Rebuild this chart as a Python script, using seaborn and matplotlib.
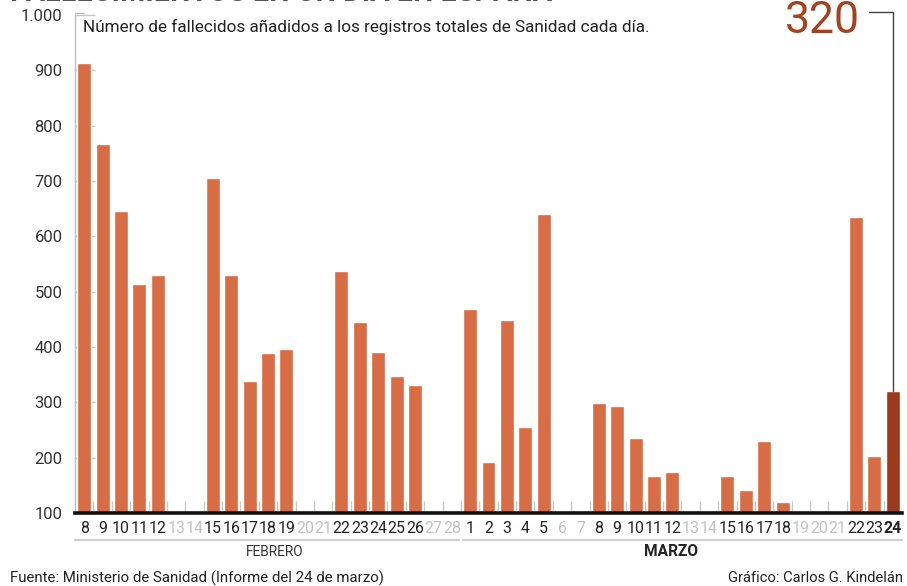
import matplotlib
matplotlib.use("Agg")
import matplotlib.pyplot as plt
import seaborn as sns
import pandas as pd
from matplotlib.lines import Line2D

# ---- data ----
feb_days = [8, 9, 10, 11, 12, 13, 14, 15, 16, 17, 18, 19, 20, 21, 22, 23, 24, 25, 26, 27, 28]
feb_values = [913, 767, 645, 514, 531, 0, 0, 705, 531, 338, 389, 397, 0, 0, 537, 445, 391, 347, 331, 0, 0]
feb_weekend = [13, 14, 20, 21, 27, 28]

mar_days = [1, 2, 3, 4, 5, 6, 7, 8, 9, 10, 11, 12, 13, 14, 15, 16, 17, 18, 19, 20, 21, 22, 23, 24]
mar_values = [469, 193, 449, 255, 640, 0, 0, 298, 293, 235, 167, 174, 0, 0, 167, 142, 230, 120, 0, 0, 0, 635, 203, 320]
mar_weekend = [6, 7, 13, 14, 19, 20, 21]

y_ticks = [100, 200, 300, 400, 500, 600, 700, 800, 900, 1000]
y_tick_labels = ["100", "200", "300", "400", "500", "600", "700", "800", "900", "1.000"]

title = "FALLECIMIENTOS EN UN DÍA EN ESPAÑA"
subtitle = "Número de fallecidos añadidos a los registros totales de Sanidad cada día."
source = "Fuente: Ministerio de Sanidad (Informe del 24 de marzo)"
credit = "Gráfico: Carlos G. Kindelán"
highlight_label = "320"

# ---- styling ----
BAR = "#D76C45"
BAR_LAST = "#9C3A1E"
TXT = "#222222"

sns.set_theme(style="white")
plt.rcParams["font.family"] = ["Roboto", "DejaVu Sans"]

keys = [f"f{d}" for d in feb_days] + [f"m{d}" for d in mar_days]
labels = [str(d) for d in feb_days] + [str(d) for d in mar_days]
values = feb_values + mar_values
weekend = [d in feb_weekend for d in feb_days] + [d in mar_weekend for d in mar_days]
n = len(keys)
colors = [BAR] * (n - 1) + [BAR_LAST]

df = pd.DataFrame({"key": keys, "value": values})

fig = plt.figure(figsize=(9.07, 5.86), dpi=100)
ax = fig.add_axes([75 / 907, 1 - 513 / 586, 827 / 907, (513 - 15) / 586])

sns.barplot(data=df, x="key", y="value", hue="key", order=keys, hue_order=keys,
            palette=colors, legend=False, width=0.76, saturation=1, ax=ax, zorder=2)

ax.set_xlim(-0.5, n - 0.5)
ax.set_ylim(100, 1000)
ax.set_xlabel("")
ax.set_ylabel("")
ax.set_axisbelow(True)

# y axis
ax.set_yticks(y_ticks)
ax.set_yticklabels(y_tick_labels)
ax.tick_params(axis="y", direction="in", length=14.4, width=1, color="#C8C8C8",
               pad=9, labelsize=12, labelcolor="#333333", left=True)

# x axis
ax.set_xticks(range(n))
ax.set_xticklabels(labels)
ax.tick_params(axis="x", length=0, pad=6, labelsize=11.4)
for lab, wk, i in zip(ax.get_xticklabels(), weekend, range(n)):
    lab.set_color("#C2C2C2" if wk else TXT)
    if i == n - 1:
        lab.set_fontweight("bold")

# spines
for s in ["top", "right"]:
    ax.spines[s].set_visible(False)
ax.spines["left"].set_color("#BDBDBD")
ax.spines["left"].set_linewidth(1)
ax.spines["bottom"].set_color("#111111")
ax.spines["bottom"].set_linewidth(2.6)
ax.spines["bottom"].set_zorder(5)

# small separators at baseline between bars
ax.vlines([i + 0.5 for i in range(n - 1)], 100, 122, color="#C8C8C8", linewidth=1, zorder=1)

# top-left corner of subtitle box
ax.add_line(Line2D([0, 0.011], [1.004, 1.004], transform=ax.transAxes, color="#BDBDBD",
                   linewidth=1, clip_on=False))

# highlight annotation
last = n - 1
ax.text(last - 1.78, 967, highlight_label, ha="right", va="baseline", fontsize=32,
        color="#A5411F", clip_on=False)
ax.plot([last - 1.3, last, last], [1005, 1005, values[-1]], color="#444444",
        linewidth=1, clip_on=False, zorder=6)

# texts
fig.text(83 / 907, 1 - 27 / 586, subtitle, ha="left", va="center", fontsize=12.3, color=TXT)
fig.text(10 / 907, 1 - 1 / 586, title, ha="left", va="baseline", fontsize=20.7,
         fontweight="bold", color="#555555")

# month brackets
fig.add_artist(Line2D([75 / 907, 459 / 907], [1 - 540 / 586] * 2, color="#D0D0D0", linewidth=1.6))
fig.add_artist(Line2D([463 / 907, 902 / 907], [1 - 540 / 586] * 2, color="#D0D0D0", linewidth=1.6))
fig.text(275 / 907, 1 - 552 / 586, "FEBRERO", ha="center", va="center", fontsize=9.8, color="#333333")
fig.text(671 / 907, 1 - 551 / 586, "MARZO", ha="center", va="center", fontsize=11.2,
         fontweight="bold", color=TXT)

# footer
fig.text(10 / 907, 1 - 578 / 586, source, ha="left", va="center", fontsize=10.8, color=TXT)
fig.text(903 / 907, 1 - 578 / 586, credit, ha="right", va="center", fontsize=10.6, color=TXT)

fig.savefig("out.png", dpi=100)
